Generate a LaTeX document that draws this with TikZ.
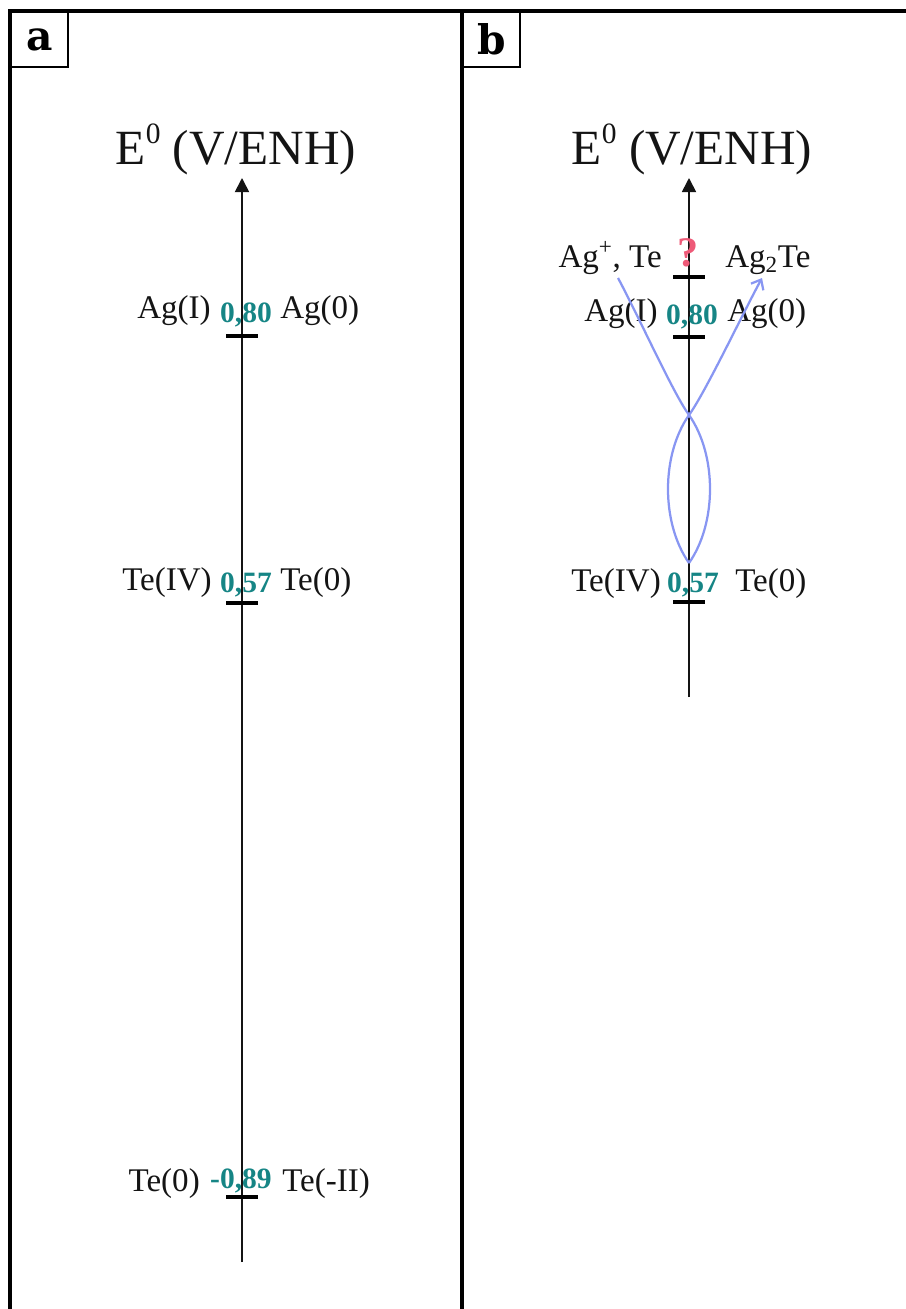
\documentclass[tikz,border=0pt]{standalone}
\usepackage{fontspec}
\setmainfont{Liberation Serif}
\newfontfamily\tagfont{DejaVu Serif}
\usepackage{xcolor}
\usepackage{tikz}
\usetikzlibrary{arrows.meta}
\definecolor{potcol}{HTML}{168585}
\definecolor{pathcol}{HTML}{8896F2}
\definecolor{askcol}{HTML}{EE5A78}
\definecolor{inkcol}{HTML}{141414}
\newcommand{\eqsup}{E\raisebox{0.42em}{\fontsize{21}{22}\selectfont 0}}

\begin{document}
\begin{tikzpicture}[x=0.025cm, y=-0.025cm, line cap=butt,
  frameline/.style={black, line width=2.2pt},
  panellabel/.style={draw=black, line width=1.5pt, anchor=north west, inner sep=0pt, minimum width=40.5pt, minimum height=39pt, font=\tagfont\bfseries\fontsize{29}{30}\selectfont},
  axisline/.style={inkcol, line width=1.2pt, -{Triangle[length=10pt, width=10pt]}},
  tickbar/.style={fill=black, inner sep=0pt, minimum width=22.5pt, minimum height=3.3pt},
  axtitle/.style={anchor=base, inkcol, font=\fontsize{35}{40}\selectfont},
  species/.style={inkcol, inner sep=0pt, font=\fontsize{23.5}{26}\selectfont},
  potential/.style={anchor=base, inner sep=0pt, potcol, font=\bfseries\fontsize{21}{24}\selectfont},
  route/.style={pathcol, line width=1.6pt}]
\useasboundingbox (0,0) rectangle (906,1309);
\draw[frameline] (906,11) -| (10,1309);
\draw[frameline] (462,11) -- (462,1309);
\node[panellabel] (laba) at (10,11) {\raisebox{-2pt}{a}};
\node[panellabel] (labb) at (462,11) {\raisebox{-2pt}{b}};
\node[axtitle] (tita) at (236,164) {\eqsup{} (V/ENH)};
\coordinate (abot) at (242,1262);
\coordinate (atop) at (242,178);
\draw[axisline] (abot) -- (atop);
\node[tickbar] (ta1) at (242,336) {};
\node[species, anchor=base east] (agIa) at (211,318) {Ag(I)};
\node[potential] (pa1) at (246,322) {0,80};
\node[species, anchor=base west] (ag0a) at (280,318) {Ag(0)};
\node[tickbar] (ta2) at (242,603) {};
\node[species, anchor=base east] (teIVa) at (212,590) {Te(IV)};
\node[potential] (pa2) at (246,592) {0,57};
\node[species, anchor=base west] (te0a) at (280,590) {Te(0)};
\node[tickbar] (ta3) at (242,1197) {};
\node[species, anchor=base east] (te0c) at (200,1191) {Te(0)};
\node[potential] (pa3) at (241,1188) {-0,89};
\node[species, anchor=base west] (teIIa) at (282,1191) {Te(-II)};
\node[axtitle] (titb) at (692,164) {\eqsup{} (V/ENH)};
\coordinate (bbot) at (689,697);
\coordinate (btop) at (689,178);
\draw[axisline] (bbot) -- (btop);
\node[tickbar] (tb0) at (689,277) {};
\node[species, anchor=base east] (agte) at (662,267) {Ag\textsuperscript{+}, Te};
\node[anchor=base, askcol, font=\bfseries\fontsize{30}{32}\selectfont] (ask) at (688,266) {?};
\node[species, anchor=base west] (ag2te) at (725,267) {Ag\textsubscript{2}Te};
\node[tickbar] (tb1) at (689,337) {};
\node[species, anchor=base east] (agIb) at (658,321) {Ag(I)};
\node[potential] (pb1) at (692,324) {0,80};
\node[species, anchor=base west] (ag0b) at (727,321) {Ag(0)};
\node[tickbar] (tb2) at (689,602) {};
\node[species, anchor=base east] (teIVb) at (661,591) {Te(IV)};
\node[potential] (pb2) at (693,592) {0,57};
\node[species, anchor=base west] (te0b) at (735,591) {Te(0)};
\coordinate (bs) at (689,563);
\coordinate (bx) at (689,415);
\coordinate (bl) at (618,278);
\coordinate (br) at (762,278);
\draw[route, -{Straight Barb[length=6pt, width=10pt]}] (bs) .. controls +(-28,-40) and +(-28,40) .. (bx) .. controls +(16,-22) and +(-20,37) .. (br);
\draw[route] (bs) .. controls +(28,-40) and +(28,40) .. (bx) .. controls +(-16,-22) and +(20,37) .. (bl);
\end{tikzpicture}
\end{document}
